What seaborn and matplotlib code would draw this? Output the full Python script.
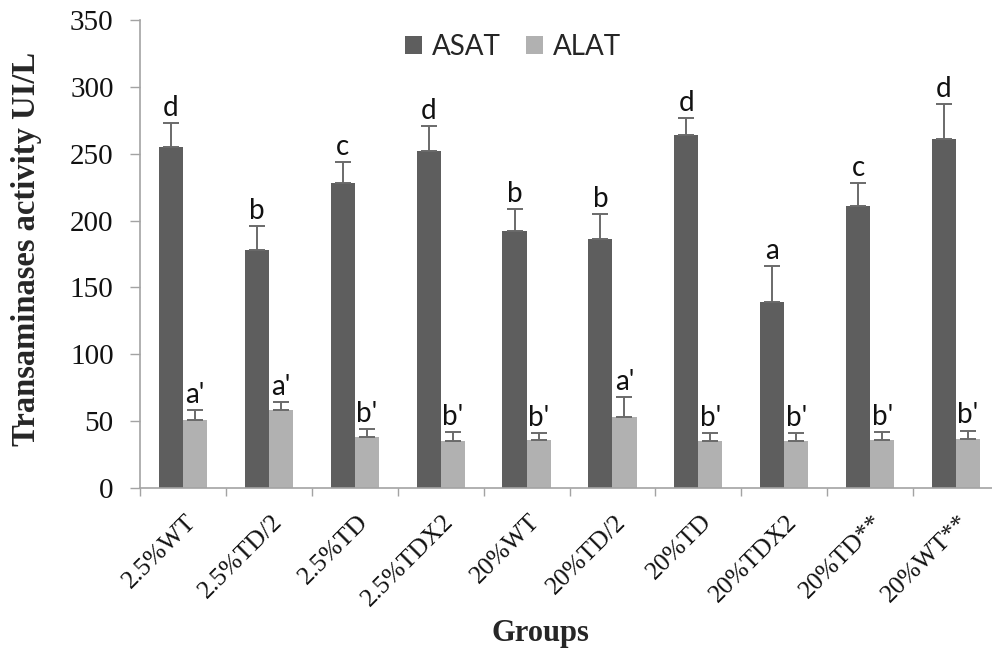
import numpy as np
import pandas as pd
import matplotlib
matplotlib.use("Agg")
import matplotlib.pyplot as plt
import matplotlib.transforms as mtransforms
from matplotlib.patches import Patch
import seaborn as sns

# Groups and enzyme measurements (UI/L)
groups = ["2.5%WT", "2.5%TD/2", "2.5%TD", "2.5%TDX2", "20%WT",
          "20%TD/2", "20%TD", "20%TDX2", "20%TD**", "20%WT**"]
asat_mean = [255, 178, 228, 252, 192, 186, 264, 139, 211, 261]
asat_err = [18, 18, 16, 19, 17, 19, 13, 27, 17, 26]
alat_mean = [51, 58, 38, 35, 36, 53, 35, 35, 36, 37]
alat_err = [7, 6, 6, 7, 5, 15, 6, 6, 6, 6]
asat_letters = ["d", "b", "c", "d", "b", "b", "d", "a", "c", "d"]
alat_letters = ["a'", "a'", "b'", "b'", "b'", "a'", "b'", "b'", "b'", "b'"]
enzymes = ["ASAT", "ALAT"]

df = pd.DataFrame({
    "group": groups * 2,
    "enzyme": [enzymes[0]] * len(groups) + [enzymes[1]] * len(groups),
    "value": asat_mean + alat_mean,
})

sns.set_theme(style="white")
plt.rcParams["font.family"] = ["Liberation Serif", "DejaVu Serif"]

colors = {"ASAT": "#5e5e5e", "ALAT": "#b1b1b1"}
err_color = "#6a6a6a"
spine_color = "#a3a3a3"
sans = ["Lato", "DejaVu Sans"]

fig = plt.figure(figsize=(9.92, 6.54), dpi=100)
W, H = 992, 654
ax = fig.add_axes([140 / W, (H - 488) / H, 859 / W, 468 / H])

sns.barplot(data=df, x="group", y="value", hue="enzyme", order=groups,
            hue_order=enzymes, palette=colors, width=0.56, errorbar=None,
            legend=False, ax=ax, saturation=1, linewidth=0)

errs = {"ASAT": asat_err, "ALAT": alat_err}
means = {"ASAT": asat_mean, "ALAT": alat_mean}
letters = {"ASAT": asat_letters, "ALAT": alat_letters}
for cont, enz in zip(ax.containers, enzymes):
    for bar, m, e, lab in zip(cont, means[enz], errs[enz], letters[enz]):
        cx = bar.get_x() + bar.get_width() / 2
        top = bar.get_height()
        ax.errorbar(cx, top, yerr=[[0], [e]], fmt="none", ecolor=err_color,
                    elinewidth=1.4, capsize=6, capthick=1.4, zorder=3)
        ax.text(cx, m + e + 1.5, lab, ha="center", va="bottom",
                fontsize=20, family=sans, color="#111111")

ax.set_xlim(-0.5, 9.5)
ax.set_ylim(0, 350)
ax.set_yticks(np.arange(0, 351, 50))
ax.tick_params(axis="y", labelsize=21, length=7, width=1, color=spine_color,
               pad=12, left=True, labelcolor="#111111")

# category boundaries carry the tick marks, labels sit at the centres
ax.set_xticks(np.arange(-0.5, 10, 1), minor=True)
ax.tick_params(axis="x", which="minor", length=6, width=1, color=spine_color,
               bottom=True)
ax.tick_params(axis="x", which="major", length=0, pad=22, labelsize=18.5,
               labelcolor="#111111")
offset = mtransforms.ScaledTranslation(7 / 72, 0, fig.dpi_scale_trans)
for t in ax.get_xticklabels():
    t.set_rotation(45)
    t.set_ha("right")
    t.set_va("center")
    t.set_rotation_mode("anchor")
    t.set_transform(t.get_transform() + offset)

for side in ["top", "right"]:
    ax.spines[side].set_visible(False)
for side in ["left", "bottom"]:
    ax.spines[side].set_color(spine_color)
    ax.spines[side].set_linewidth(1.2)

ax.set_xlabel("Groups", fontsize=22, fontweight="bold", va="center")
ax.xaxis.set_label_coords((540 - 140) / 859, -(634 - 488) / 468)
ax.set_ylabel("Transaminases activity UI/L", fontsize=23.5, fontweight="bold",
              va="center")
ax.yaxis.set_label_coords((27 - 140) / 859, (488 - 249) / 468)

handles = [Patch(facecolor=colors[e], edgecolor="none", label=e) for e in enzymes]
leg = ax.legend(handles=handles, ncol=2, frameon=False,
                loc="center", bbox_to_anchor=((513 - 140) / 859, (488 - 47) / 468),
                handlelength=0.6, handleheight=0.6, handletextpad=0.36,
                columnspacing=0.9, prop={"family": sans, "size": 20})

fig.savefig("out.png", dpi=100)
